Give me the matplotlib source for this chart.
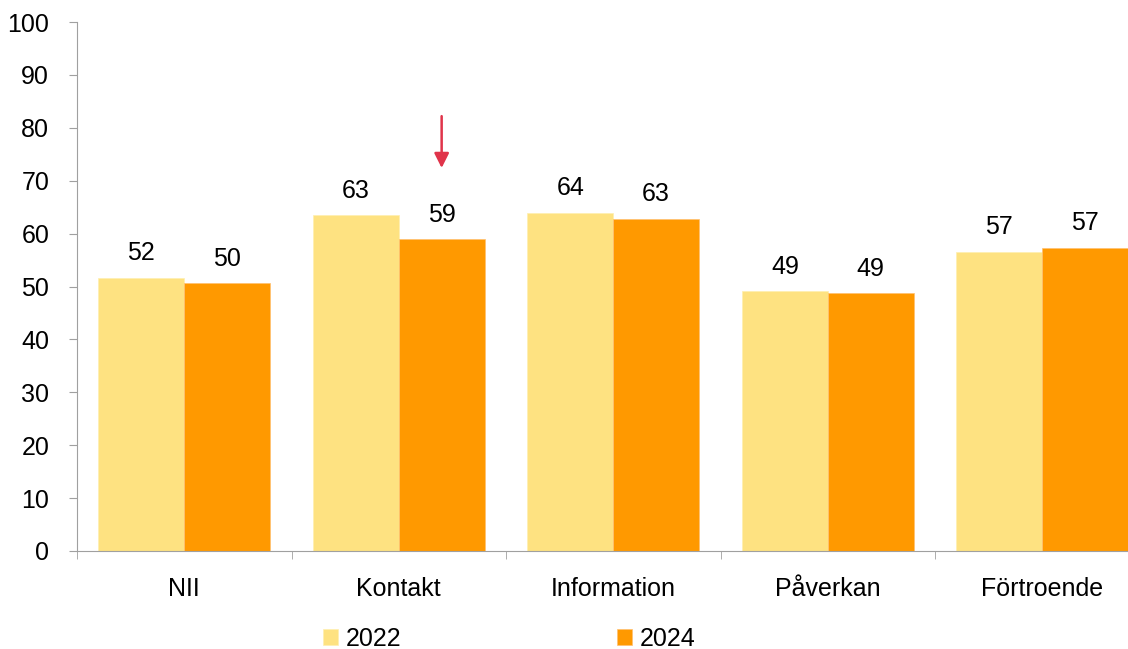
import numpy as np
import matplotlib.pyplot as plt

categories = ['NII', 'Kontakt', 'Information', 'Påverkan', 'Förtroende']
v2022 = [51.7, 63.5, 63.9, 49.1, 56.6]
v2024 = [50.6, 58.9, 62.8, 48.7, 57.3]
labels2022 = [52, 63, 64, 49, 57]
labels2024 = [50, 59, 63, 49, 57]

plt.rcParams['font.family'] = ['Liberation Sans', 'DejaVu Sans']

fig = plt.figure(figsize=(11.28, 6.49), dpi=100)
ax = fig.add_axes([77/1128, 98/649, 1072.5/1128, 529/649])

x = np.arange(len(categories))
w = 0.4
b1 = ax.bar(x - w/2, v2022, w, color='#FEE281', edgecolor='#FFEFB0', linewidth=0.5, label='2022')
b2 = ax.bar(x + w/2, v2024, w, color='#FF9900', edgecolor='#FFC070', linewidth=0.5, label='2024')
ax.bar_label(b1, labels=[str(v) for v in labels2022], padding=9, fontsize=18)
ax.bar_label(b2, labels=[str(v) for v in labels2024], padding=9, fontsize=18)

# red arrow above Kontakt 2024
ax.annotate('', xy=(1 + w/2, 72.4), xytext=(1 + w/2, 82.2),
            arrowprops=dict(arrowstyle='-|>', color='#E0344A', lw=1.8, mutation_scale=22,
                            shrinkA=0, shrinkB=0))

ax.set_xlim(-0.5, 4.5)
ax.set_ylim(0, 100)
ax.set_yticks(np.arange(0, 101, 10))
ax.set_xticks(x)
ax.set_xticklabels(categories, fontsize=18)
ax.set_xticks(np.arange(-0.5, 5, 1), minor=True)
ax.tick_params(axis='x', which='major', length=0, pad=19)
ax.tick_params(axis='x', which='minor', length=6, color='#A0A0A0', direction='out')
ax.tick_params(axis='y', labelsize=18, length=6, color='#A0A0A0', pad=14)
for s in ['top', 'right']:
    ax.spines[s].set_visible(False)
for s in ['left', 'bottom']:
    ax.spines[s].set_color('#A0A0A0')

fig.legend(handles=[b1, b2], loc='center left', bbox_to_anchor=(323/1128, 10/649),
           ncol=2, frameon=False, fontsize=18, handlelength=0.6, handleheight=0.6,
           handletextpad=0.3, columnspacing=8.65, borderpad=0, borderaxespad=0)

fig.savefig('out.png', dpi=100)
